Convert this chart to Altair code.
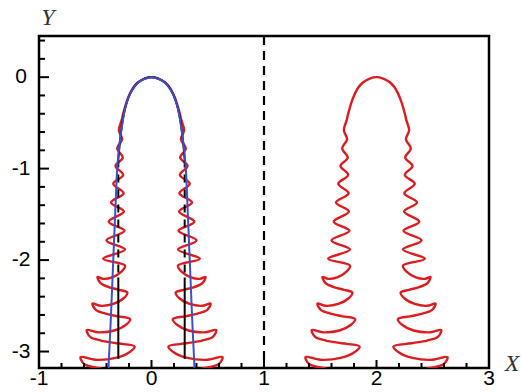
import altair as alt
import pandas as pd

# plot window in data units
X_DOMAIN = [-1, 3]
Y_DOMAIN = [-3.18, 0.45]
W, H = 450, 332

# horizontal positions of the two bubble axes
bubble_x = [0.0, 2.0]

# right half of the red interface: offset from the bubble axis and height
red_dx = [0.000, 0.060, 0.118, 0.160, 0.192, 0.218, 0.236, 0.252, 0.265, 0.290,
          0.262, 0.305, 0.255, 0.320, 0.252, 0.340, 0.248, 0.360, 0.245, 0.380,
          0.240, 0.400, 0.235, 0.430, 0.235,
          0.270, 0.350, 0.430, 0.480, 0.450, 0.380, 0.290, 0.215,
          0.250, 0.340, 0.450, 0.525, 0.495, 0.410, 0.300, 0.190,
          0.230, 0.330, 0.470, 0.575, 0.545, 0.450, 0.310, 0.150,
          0.200, 0.320, 0.500, 0.630, 0.600, 0.480, 0.320, 0.150]
red_y = [0.000, -0.015, -0.055, -0.110, -0.180, -0.260, -0.330, -0.400, -0.470, -0.580,
         -0.680, -0.780, -0.880, -0.970, -1.070, -1.165, -1.270, -1.370, -1.470, -1.580,
         -1.680, -1.785, -1.885, -1.985, -2.060,
         -2.130, -2.190, -2.205, -2.185, -2.255, -2.295, -2.325, -2.355,
         -2.420, -2.480, -2.500, -2.475, -2.545, -2.585, -2.615, -2.645,
         -2.710, -2.770, -2.790, -2.765, -2.840, -2.880, -2.910, -2.945,
         -3.010, -3.070, -3.090, -3.060, -3.135, -3.180, -3.215, -3.250]

# right half of the blue model curve (left bubble only)
blue_dx = [0.000, 0.065, 0.115, 0.190, 0.232, 0.258, 0.276, 0.292, 0.305, 0.323, 0.340, 0.360, 0.385]
blue_y = [0.000, -0.020, -0.055, -0.180, -0.330, -0.500, -0.650, -0.820, -1.000, -1.500, -2.000, -2.600, -3.250]

# black model curve (left bubble only): cap, then dashed and solid straight walls
black_arc_dx = [0.000, 0.118, 0.190, 0.232, 0.260, 0.280, 0.295]
black_arc_y = [0.000, -0.055, -0.180, -0.330, -0.500, -0.700, -0.900]
black_wall_dx = 0.295
black_dashed_y = [-0.90, -2.19]
black_solid_y = [-2.19, -3.08]

divider_x = [1.0]

x_major = [-1, 0, 1, 2, 3]
x_labels = ["-1", "0", "1", "2", "3"]
x_minor = [-0.8, -0.6, -0.4, -0.2, 0.2, 0.4, 0.6, 0.8, 1.2, 1.4, 1.6, 1.8,
           2.2, 2.4, 2.6, 2.8]
y_major = [0, -1, -2, -3]
y_labels = ["0", "-1", "-2", "-3"]
y_minor = [0.4, 0.2, -0.2, -0.4, -0.6, -0.8, -1.2, -1.4, -1.6, -1.8,
           -2.2, -2.4, -2.6, -2.8]


def mirrored(cx, dx, y, key):
    """Full outline: left half (mirrored) bottom-up, then right half top-down."""
    n = len(dx)
    rows = []
    for i in range(n - 1, 0, -1):
        rows.append({"x": cx - dx[i], "y": y[i], "k": key, "o": n - 1 - i})
    for i in range(n):
        rows.append({"x": cx + dx[i], "y": y[i], "k": key, "o": n - 1 + i})
    return rows


red_rows = []
for j, cx in enumerate(bubble_x):
    red_rows += mirrored(cx, red_dx, red_y, f"b{j}")
red_df = pd.DataFrame(red_rows)

blue_df = pd.DataFrame(mirrored(bubble_x[0], blue_dx, blue_y, "blue"))

black_solid_rows = mirrored(bubble_x[0], black_arc_dx, black_arc_y, "cap")
black_dash_rows = []
for side, sgn in (("l", -1), ("r", 1)):
    xw = bubble_x[0] + sgn * black_wall_dx
    for o, yy in enumerate(black_solid_y):
        black_solid_rows.append({"x": xw, "y": yy, "k": "wall" + side, "o": o})
    for o, yy in enumerate(black_dashed_y):
        black_dash_rows.append({"x": xw, "y": yy, "k": "dash" + side, "o": o})
black_solid_df = pd.DataFrame(black_solid_rows)
black_dash_df = pd.DataFrame(black_dash_rows)

xs = alt.Scale(domain=X_DOMAIN, nice=False, zero=False)
ys = alt.Scale(domain=Y_DOMAIN, nice=False, zero=False)

RED = "#dc1c1e"
BLUE = "#3f4fc6"
LABEL_FONT = "Liberation Sans"
TITLE_FONT = "Liberation Serif"


def curve(df, color, width, dash=None, smooth=True):
    kw = dict(color=color, strokeWidth=width, clip=True)
    if smooth:
        kw["interpolate"] = "catmull-rom"
    if dash:
        kw["strokeDash"] = dash
    return alt.Chart(df).mark_line(**kw).encode(
        x=alt.X("x:Q", scale=xs, axis=None),
        y=alt.Y("y:Q", scale=ys, axis=None),
        detail="k:N",
        order="o:Q",
    )


red = curve(red_df, RED, 2.4)
black_solid = curve(black_solid_df, "black", 2)
black_dash = curve(black_dash_df, "black", 2, dash=[8, 7], smooth=False)
blue = curve(blue_df, BLUE, 2)

divider = alt.Chart(pd.DataFrame({"v": divider_x})).mark_rule(
    color="black", strokeWidth=2.2, strokeDash=[9, 6]
).encode(x=alt.X("v:Q", scale=xs, axis=None))


def x_ticks(values, length):
    return alt.Chart(pd.DataFrame({"v": values})).mark_rule(
        color="black", strokeWidth=2
    ).encode(x=alt.X("v:Q", scale=xs, axis=None), y=alt.value(H), y2=alt.value(H - length))


def y_ticks(values, length):
    return alt.Chart(pd.DataFrame({"v": values})).mark_rule(
        color="black", strokeWidth=2
    ).encode(y=alt.Y("v:Q", scale=ys, axis=None), x=alt.value(0), x2=alt.value(length))


x_text = alt.Chart(pd.DataFrame({"v": x_major, "t": x_labels})).mark_text(
    font=LABEL_FONT, fontSize=21, color="black", align="center", baseline="middle"
).encode(x=alt.X("v:Q", scale=xs, axis=None), y=alt.value(H + 11), text="t:N")

y_text = alt.Chart(pd.DataFrame({"v": y_major, "t": y_labels})).mark_text(
    font=LABEL_FONT, fontSize=21, color="black", align="center", baseline="middle"
).encode(y=alt.Y("v:Q", scale=ys, axis=None), x=alt.value(-18), text="t:N")

axis_names = pd.DataFrame({"t": ["X", "Y"], "px": [473, 9], "py": [H + 3, -11]})
titles = alt.Chart(axis_names).mark_text(
    font=TITLE_FONT, fontSize=24, fontStyle="italic", color="#333333",
    align="center", baseline="alphabetic"
).encode(
    x=alt.X("px:Q", scale=None, axis=None),
    y=alt.Y("py:Q", scale=None, axis=None),
    text="t:N",
)

chart = alt.layer(
    red, divider, black_dash, black_solid, blue,
    x_ticks(x_major, 8), x_ticks(x_minor, 5),
    y_ticks(y_major, 10), y_ticks(y_minor, 6),
    x_text, y_text, titles,
).properties(
    width=W,
    height=H,
    autosize=alt.AutoSizeParams(type="none"),
    padding={"left": 39, "top": 36, "right": 32, "bottom": 24},
    background="white",
).configure_view(stroke="black", strokeWidth=2.5)

chart.save("out.html", embed_options={"renderer": "svg", "actions": False})
